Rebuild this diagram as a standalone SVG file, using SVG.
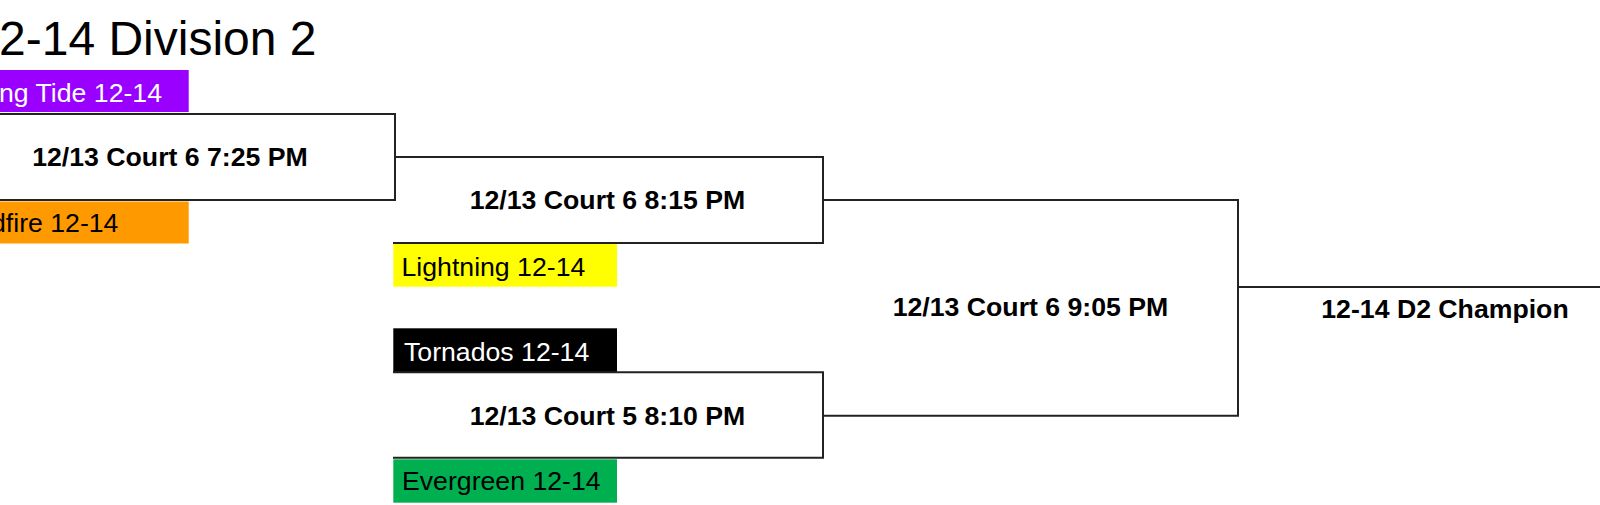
<svg xmlns="http://www.w3.org/2000/svg" width="1600" height="505" viewBox="0 0 1600 505">
<style>
.bg{fill:#ffffff}
.title{font-family:"Liberation Sans",Arial,sans-serif;font-size:48px;fill:#000}
.match{fill:none;stroke:#222;stroke-width:2}
.mtext{font-family:"Liberation Sans",Arial,sans-serif;font-size:26.67px;font-weight:bold;fill:#000;text-anchor:middle}
.team{font-family:"Liberation Sans",Arial,sans-serif;font-size:26.67px;fill:#000}
.team.light{fill:#fff}
</style>
<rect class="bg" x="0" y="0" width="1600" height="505"/>
<text id="title" class="title" x="-1" y="55">2-14 Division 2</text>

<g id="connectors">
  <path class="match" d="M1238 287 H1610"/>
</g>

<g id="team-tide">
  <rect x="-40" y="70" width="228.7" height="42" fill="#9900ff"/>
  <text class="team light" x="-1" y="101.5">ng Tide 12-14</text>
</g>
<g id="team-wildfire">
  <rect x="-40" y="201.5" width="228.7" height="42" fill="#ff9900"/>
  <text class="team" x="-9" y="232">dfire 12-14</text>
</g>
<g id="team-lightning">
  <rect x="393.3" y="244" width="223.7" height="42.7" fill="#ffff00"/>
  <text class="team" x="401.5" y="276">Lightning 12-14</text>
</g>
<g id="team-tornados">
  <rect x="393.3" y="328.3" width="223.7" height="44" fill="#000000"/>
  <text class="team light" x="404" y="360.7">Tornados 12-14</text>
</g>
<g id="team-evergreen">
  <rect x="393.3" y="459.3" width="223.7" height="43.4" fill="#00b050"/>
  <text class="team" x="402" y="490">Evergreen 12-14</text>
</g>

<g id="match-1">
  <path class="match" d="M-60 114 H395 V200 H-60"/>
  <text class="mtext" x="170" y="165.7">12/13 Court 6 7:25 PM</text>
</g>
<g id="match-2">
  <path class="match" d="M394 157 H823 V243 H393"/>
  <text class="mtext" x="607.5" y="209">12/13 Court 6 8:15 PM</text>
</g>
<g id="match-4">
  <path class="match" d="M393 372.3 H823 V457.7 H393"/>
  <text class="mtext" x="607.5" y="425">12/13 Court 5 8:10 PM</text>
</g>
<g id="match-3">
  <path class="match" d="M823 200 H1238 V415.7 H823"/>
  <text class="mtext" x="1030.5" y="316">12/13 Court 6 9:05 PM</text>
</g>
<g id="champion">
  <text class="mtext" x="1445" y="318.3">12-14 D2 Champion</text>
</g>
</svg>
